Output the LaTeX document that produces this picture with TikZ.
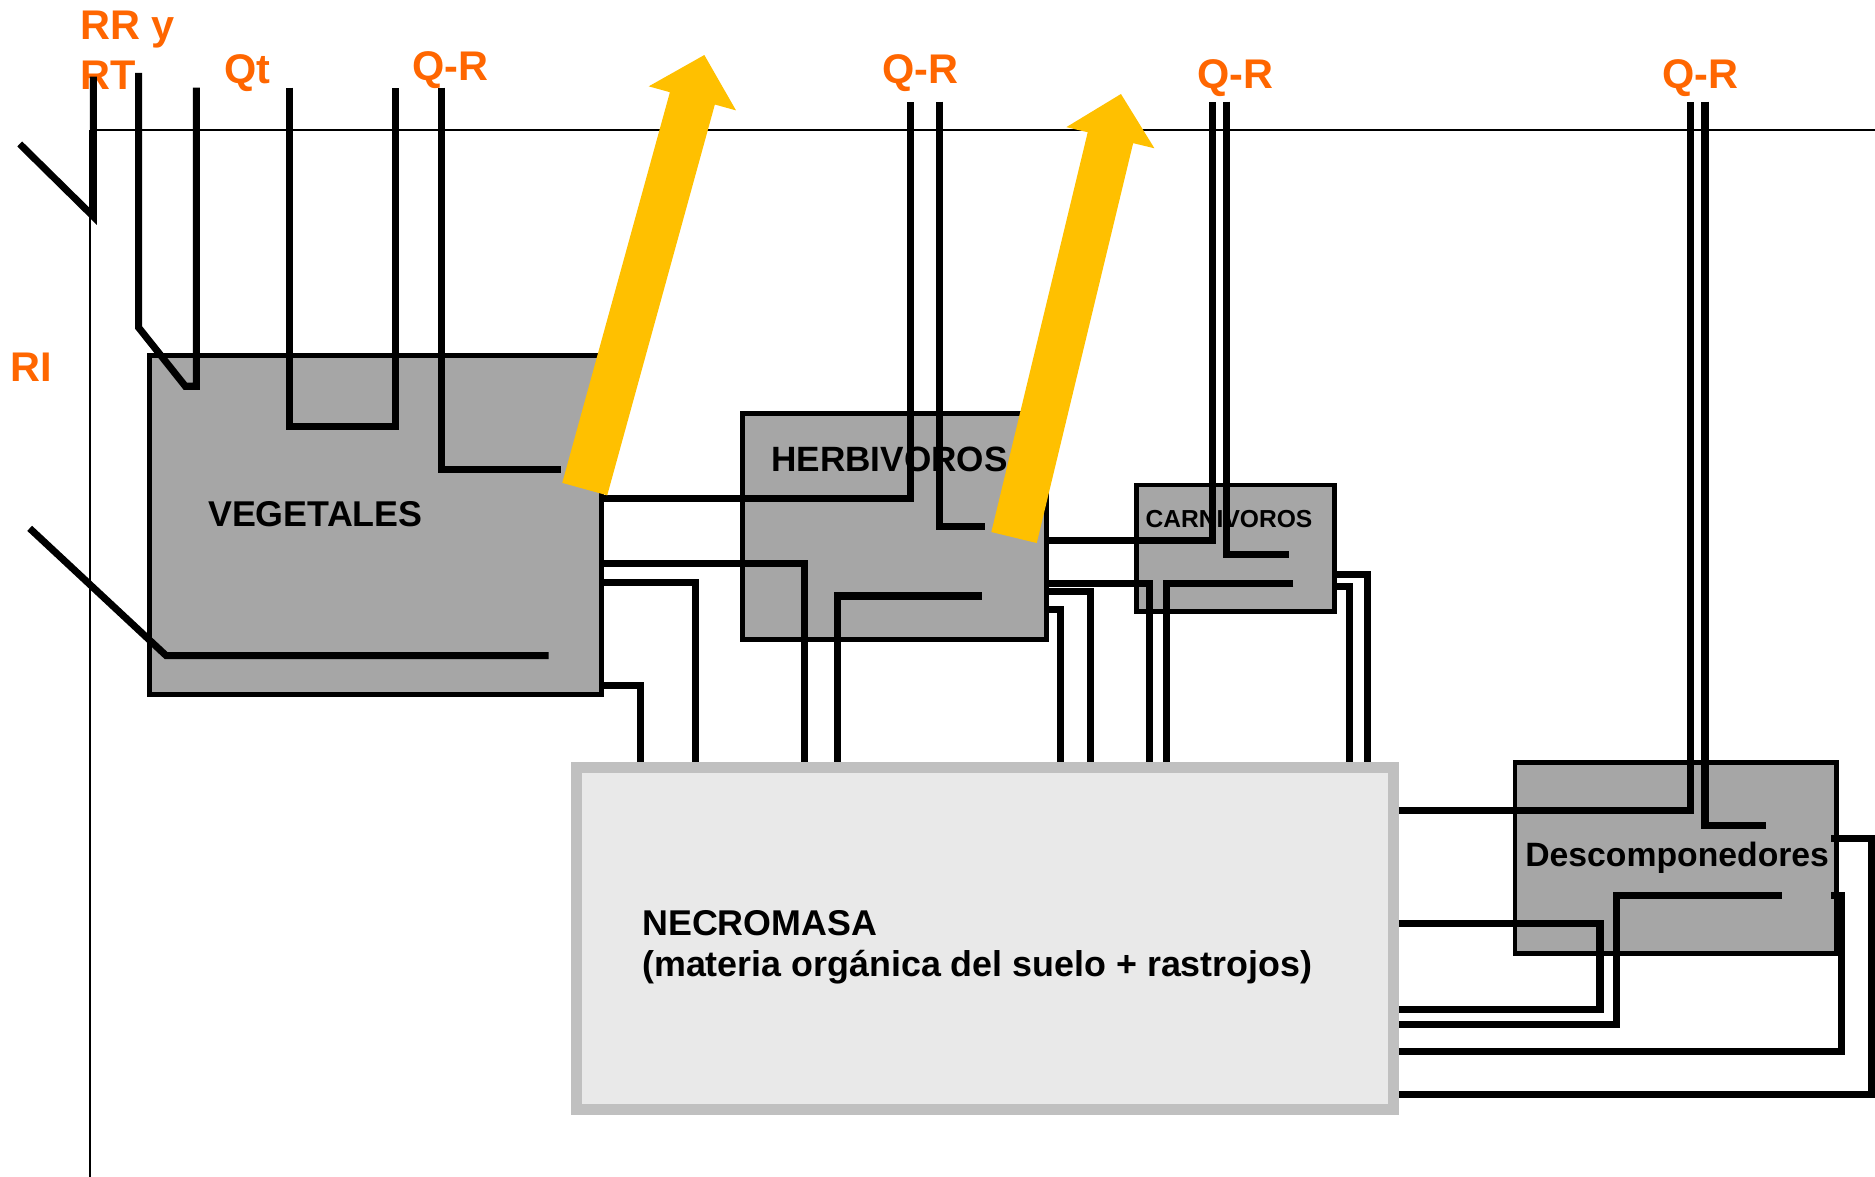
\documentclass[tikz,border=0pt]{standalone}
\usepackage{fontspec}
\setmainfont{Liberation Sans}
\usetikzlibrary{arrows.meta, positioning, calc, fit}
\definecolor{BoxGray}{RGB}{166, 166, 166}
\definecolor{NecroFill}{RGB}{233, 233, 233}
\definecolor{NecroEdge}{RGB}{192, 192, 192}
\definecolor{FlowOrange}{RGB}{255, 102, 0}
\definecolor{HeatGold}{RGB}{255, 192, 0}

\begin{document}
\begin{tikzpicture}[
            x=0.011958cm, y=-0.011958cm,
            box/.style={draw=black, line width=1.3pt, fill=BoxGray, inner sep=0pt},
            necrobox/.style={draw=NecroEdge, line width=3pt, fill=NecroFill, inner sep=0pt},
            flow/.style={line width=2pt},
            axisline/.style={line width=0.5pt},
            flowtag/.style={text=FlowOrange, inner sep=0pt, anchor=base west, align=left, font=\bfseries\fontsize{11.8}{14.2}\selectfont},
            boxtxt/.style={inner sep=0pt, anchor=base west, align=left, font=\bfseries\fontsize{#1}{11.9}\selectfont},
            heat/.style={fill=HeatGold}
        ]
            \useasboundingbox (0,0) rectangle (1568,984);

            % compartments
            \node[box, fit={(124.8,297.4) (503,581)}] (veg) {};
            \node[box, fit={(621,346) (875,535)}] (herb) {};
            \node[box, fit={(950.5,405.6) (1115.8,511.5)}] (carn) {};
            \node[box, fit={(1267,637.7) (1535.8,797.2)}] (desc) {};
            \node[necrobox, fit={(482,642) (1165.5,928)}] (necro) {};

            \node[boxtxt=10.2] (vegtxt) at (173.5,440) {VEGETALES};
            \node[boxtxt=10] (herbtxt) at (644.5,394.4) {HERBIVOROS};
            \node[boxtxt=7] (carntxt) at (957.5,441) {CARNIVOROS};
            \node[boxtxt=9.6] (desctxt) at (1275,724.6) {Descomponedores};
            \node[boxtxt=10.2] (necrotxt) at (536.5,817) {NECROMASA\\(materia orgánica del suelo + rastrojos)};

            % flux labels
            \node[flowtag] (lblRR) at (66.5,74.7) {RR y\\RT};
            \node[flowtag] (lblQt) at (187,70) {Qt};
            \node[flowtag] (lblQRv) at (344.5,67) {Q-R};
            \node[flowtag] (lblQRh) at (737.5,69.7) {Q-R};
            \node[flowtag] (lblQRc) at (1001,73.9) {Q-R};
            \node[flowtag] (lblQRd) at (1389.5,74) {Q-R};
            \node[flowtag] (lblRI) at (8.5,319.2) {RI};

            % free ends
            \coordinate (radin) at (16.5,120.4);
            \coordinate (radtop) at (78,64);
            \coordinate (rrA) at (116,61);
            \coordinate (rrB) at (164.3,73.3);
            \coordinate (qtA) at (242.5,73.3);
            \coordinate (qtB) at (331,73.3);
            \coordinate (qrV) at (368.8,73.3);
            \coordinate (riA) at (24.8,441.8);
            \coordinate (qrH1) at (761,85);
            \coordinate (qrH2) at (786,85);
            \coordinate (qrC1) at (1013.8,85);
            \coordinate (qrC2) at (1025.8,85);
            \coordinate (qrD1) at (1414,85);
            \coordinate (qrD2) at (1425.8,85);
            \coordinate (herbIn) at (821,498.4);
            \coordinate (carnIn) at (1081.5,488.3);
            \coordinate (descIn) at (1490,749);
            \coordinate (descR1) at (1531.5,749);
            \coordinate (descR2) at (1531.5,701);

            % reference lines
            \draw[axisline] (radtop |- 0,108.5) -- (1568,108.5);
            \draw[axisline] (75.4,108.5) -- (75.4,984);

            % vegetales
            \draw[flow] (radin) -- (78,181) -- (radtop);
            \draw[flow] (rrA) -- (116,274) -- (155,323) -- (rrB |- 0,323) -- (rrB);
            \draw[flow] (qtA) -- (qtA |- 0,356.8) -- (qtB |- 0,356.8) -- (qtB);
            \draw[flow] (qrV) |- (469.3,393);
            \draw[flow] (riA) -- (139,548.3) -- (458.8,548.3);
            \draw[flow] (veg.east |- 0,417) -| (qrH1);
            \draw[flow] (veg.east |- 0,471.5) -| (673,0 |- necro.north);
            \draw[flow] (veg.east |- 0,487) -| (581.5,0 |- necro.north);
            \draw[flow] (veg.east |- 0,573.6) -| (536,0 |- necro.north);

            % herbivoros
            \draw[flow] (qrH2) |- (823.7,440.4);
            \draw[flow] (herbIn) -| (700,0 |- necro.north);
            \draw[flow] (herb.east |- 0,451.6) -| (qrC1);
            \draw[flow] (herb.east |- 0,487.7) -| (961.6,0 |- necro.north);
            \draw[flow] (herb.east |- 0,494.7) -| (912,0 |- necro.north);
            \draw[flow] (herb.east |- 0,510) -| (887,0 |- necro.north);

            % carnivoros
            \draw[flow] (qrC2) |- (1078,464);
            \draw[flow] (carnIn) -| (975.5,0 |- necro.north);
            \draw[flow] (carn.east |- 0,480.8) -| (1143.4,0 |- necro.north);
            \draw[flow] (carn.east |- 0,490.5) -| (1128.8,0 |- necro.north);

            % descomponedores
            \draw[flow] (necro.east |- 0,677.9) -| (qrD1);
            \draw[flow] (qrD2) |- (1476.8,690.4);
            \draw[flow] (necro.east |- 0,772) -| (1338,844.5) -- (necro.east |- 0,844.5);
            \draw[flow] (descIn) -| (1352,857) -- (necro.east |- 0,857);
            \draw[flow] (descR1) -| (1540,879) -- (necro.east |- 0,879);
            \draw[flow] (descR2) -| (1565,915.5) -- (necro.east |- 0,915.5);

            % heat losses
            \fill[heat] (470.2,403.8) -- (560.2,77.1) -- (542.5,72.2) -- (589,46) -- (615.5,92.3) -- (597.8,87.4) -- (507.8,414.2) -- cycle;
            \fill[heat] (829.0,444.9) -- (909.6,110.6) -- (891.75,106.3) -- (937.4,78.6) -- (965.4,124.0) -- (947.6,119.7) -- (867.0,454.1) -- cycle;
        \end{tikzpicture}
\end{document}
